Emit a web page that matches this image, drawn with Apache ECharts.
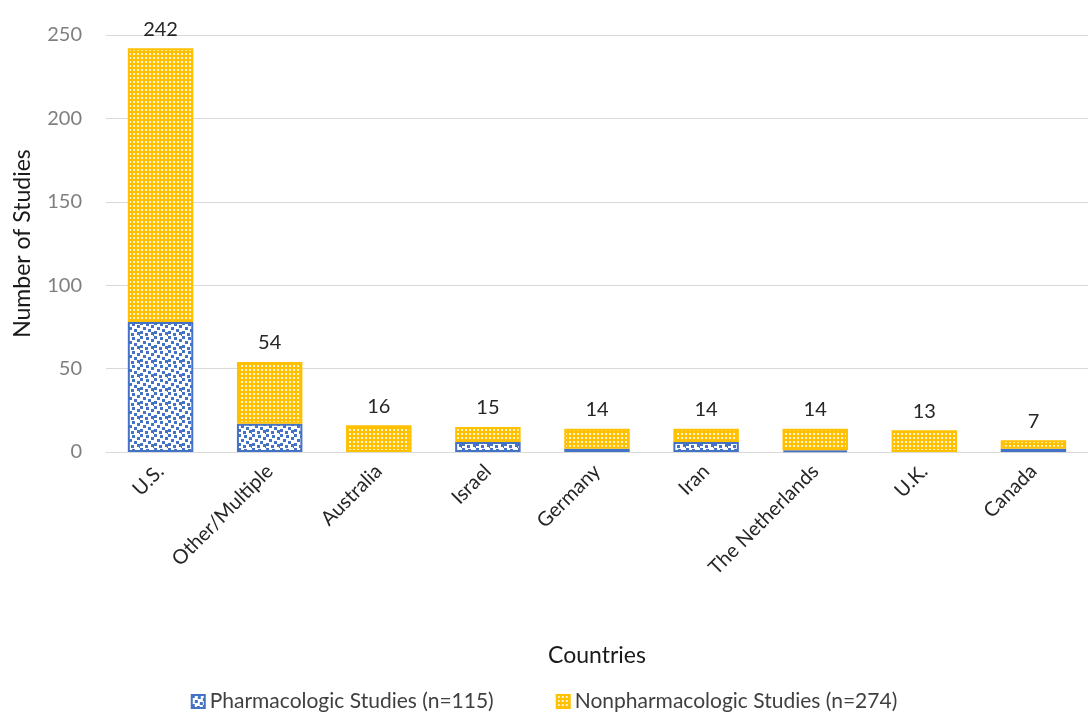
<!DOCTYPE html>
<html>
<head>
<meta charset="utf-8">
<script src="https://cdn.jsdelivr.net/npm/echarts@6/dist/echarts.min.js"></script>
<style>
  html, body { margin: 0; padding: 0; background: #ffffff; }
  #chart { width: 1088px; height: 717px; }
</style>
</head>
<body>
<div id="chart"></div>
<script>
// Studies by country, split into pharmacologic and nonpharmacologic
const countries = ['U.S.', 'Other/Multiple', 'Australia', 'Israel', 'Germany', 'Iran', 'The Netherlands', 'U.K.', 'Canada'];
const totals = [242, 54, 16, 15, 14, 14, 14, 13, 7];
const pharmacologic = [78, 17, 0, 6, 2, 6, 1, 0, 2];
const nonpharmacologic = [164, 37, 16, 9, 12, 8, 13, 13, 5];
const yTicks = [0, 50, 100, 150, 200, 250];
const seriesNames = ['Pharmacologic Studies (n=115)', 'Nonpharmacologic Studies (n=274)'];

const FONT = 'Lato, "Liberation Sans", sans-serif';
const BLUE = '#4472C4';
const GOLD = '#FFC000';

// Empty segments are skipped so no border sliver is drawn
const asBars = arr => arr.map(v => (v === 0 ? '-' : v));

// Scattered blue squares on white
function confettiPattern() {
  const c = document.createElement('canvas');
  c.width = 14; c.height = 14;
  const g = c.getContext('2d');
  g.fillStyle = '#ffffff';
  g.fillRect(0, 0, 14, 14);
  g.fillStyle = BLUE;
  const pts = [[0, 0], [6, 1], [11, 3], [3, 5], [8, 7], [0, 9], [5, 11], [11, 10], [13, 13]];
  pts.forEach(p => g.fillRect(p[0], p[1], 3, 3));
  return c;
}

// Gold fill with a fine grid of light dots
function dottedPattern() {
  const c = document.createElement('canvas');
  c.width = 4; c.height = 4;
  const g = c.getContext('2d');
  g.fillStyle = GOLD;
  g.fillRect(0, 0, 4, 4);
  g.fillStyle = '#FFF4CF';
  g.fillRect(1, 1, 2, 2);
  return c;
}

const chart = echarts.init(document.getElementById('chart'), null, { renderer: 'canvas' });

chart.setOption({
  backgroundColor: '#ffffff',
  animation: false,
  textStyle: { fontFamily: FONT },
  grid: { left: 106, right: 0, top: 35, bottom: 265, containLabel: false },
  legend: {
    bottom: 0,
    left: 'center',
    itemWidth: 13,
    itemHeight: 13,
    itemGap: 62,
    icon: 'rect',
    textStyle: { fontFamily: FONT, fontSize: 21, color: '#404040' },
    data: seriesNames
  },
  xAxis: {
    type: 'category',
    data: countries,
    name: 'Countries',
    nameLocation: 'middle',
    nameGap: 192,
    nameTextStyle: { fontFamily: FONT, fontSize: 23, color: '#1a1a1a' },
    axisLine: { lineStyle: { color: '#D9D9D9' } },
    axisTick: { show: false },
    axisLabel: { rotate: 45, fontFamily: FONT, fontSize: 20, color: '#262626', margin: 16, interval: 0 }
  },
  yAxis: {
    type: 'value',
    min: 0,
    max: 250,
    interval: 50,
    name: 'Number of Studies',
    nameLocation: 'middle',
    nameGap: 72,
    nameRotate: 90,
    nameTextStyle: { fontFamily: FONT, fontSize: 23, color: '#1a1a1a' },
    axisLine: { show: false },
    axisTick: { show: false },
    axisLabel: {
      fontFamily: FONT, fontSize: 20, color: '#7f7f7f', margin: 24,
      formatter: v => (yTicks.includes(v) ? String(v) : '')
    },
    splitLine: { lineStyle: { color: '#D9D9D9', width: 1 } }
  },
  series: [
    {
      name: seriesNames[0],
      type: 'bar',
      stack: 'all',
      barWidth: '60%',
      data: asBars(pharmacologic),
      itemStyle: {
        color: { image: confettiPattern(), repeat: 'repeat' },
        borderColor: BLUE,
        borderWidth: 2
      }
    },
    {
      name: seriesNames[1],
      type: 'bar',
      stack: 'all',
      barWidth: '60%',
      data: asBars(nonpharmacologic),
      itemStyle: {
        color: { image: dottedPattern(), repeat: 'repeat' },
        borderColor: GOLD,
        borderWidth: 2
      },
      label: {
        show: true,
        position: 'top',
        distance: 9,
        fontFamily: FONT,
        fontSize: 20,
        color: '#262626',
        formatter: p => String(totals[p.dataIndex])
      }
    }
  ]
});
</script>
</body>
</html>
